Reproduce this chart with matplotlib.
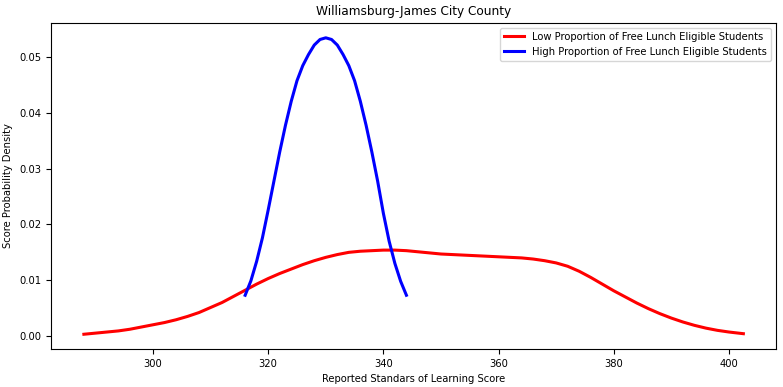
import numpy as np
import matplotlib
matplotlib.use("Agg")
import matplotlib.pyplot as plt

# scores (density estimates)
low_x = [288, 290, 292, 294, 296, 298, 300, 302, 304, 306, 308, 310, 312, 314,
         316, 318, 320, 322, 324, 326, 328, 330, 332, 334, 336, 338, 340, 342,
         344, 346, 348, 350, 352, 354, 356, 358, 360, 362, 364, 366, 368, 370,
         372, 374, 376, 378, 380, 382, 384, 386, 388, 390, 392, 394, 396, 398,
         400, 402.5]
low_y = [0.0003, 0.0005, 0.0007, 0.0009, 0.0012, 0.0016, 0.0020, 0.0024, 0.0029,
         0.0035, 0.0042, 0.0051, 0.0060, 0.0071, 0.0082, 0.0093, 0.0103, 0.0112,
         0.0120, 0.0128, 0.0135, 0.0141, 0.0146, 0.0150, 0.0152, 0.0153, 0.0154,
         0.0154, 0.0153, 0.0151, 0.0149, 0.0147, 0.0146, 0.0145, 0.0144, 0.0143,
         0.0142, 0.0141, 0.0140, 0.0138, 0.0135, 0.0131, 0.0125, 0.0116, 0.0105,
         0.0093, 0.0081, 0.0070, 0.0059, 0.0049, 0.0040, 0.0032, 0.0025, 0.0019,
         0.0014, 0.0010, 0.0007, 0.0004]

high_x = [316, 317, 318, 319, 320, 321, 322, 323, 324, 325, 326, 327, 328, 329,
          330, 331, 332, 333, 334, 335, 336, 337, 338, 339, 340, 341, 342, 343, 344]
high_y = [0.0073, 0.0099, 0.0134, 0.0176, 0.0226, 0.0278, 0.0330, 0.0378, 0.0421,
          0.0458, 0.0485, 0.0505, 0.0522, 0.0532, 0.0535, 0.0532, 0.0522, 0.0505,
          0.0485, 0.0458, 0.0421, 0.0378, 0.0330, 0.0278, 0.0220, 0.0170, 0.0130,
          0.0098, 0.0073]

fig, ax = plt.subplots(figsize=(7.83, 3.87), dpi=100)
fig.subplots_adjust(left=0.065, right=0.9915, top=0.9406, bottom=0.098)

ax.plot(low_x, low_y, color="red", lw=2.2, solid_joinstyle="round",
        label="Low Proportion of Free Lunch Eligible Students")
ax.plot(high_x, high_y, color="blue", lw=2.2, solid_joinstyle="round",
        label="High Proportion of Free Lunch Eligible Students")

ax.set_title("Williamsburg-James City County", fontsize=8.7)
ax.set_xlabel("Reported Standars of Learning Score", fontsize=7.2)
ax.set_ylabel("Score Probability Density", fontsize=7.2)
ax.tick_params(labelsize=7.2)
ax.legend(loc="upper right", fontsize=7.2)

fig.savefig("out.png", dpi=100)
